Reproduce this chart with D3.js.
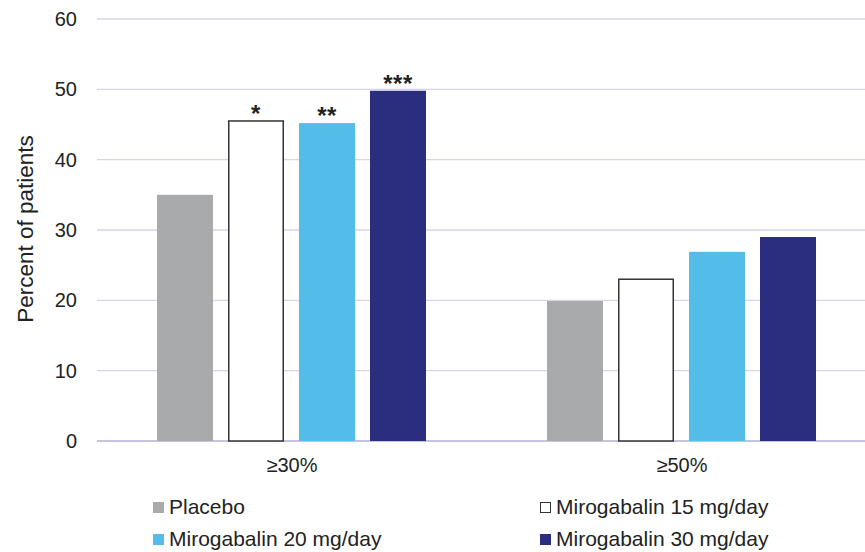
<!DOCTYPE html>
<html>
<head>
<meta charset="utf-8">
<script src="https://cdn.jsdelivr.net/npm/d3@7"></script>
<style>
	body{margin:0;background:#fff;}
	svg{font-family:"Liberation Sans",Arial,sans-serif;}
</style>
</head>
<body>
<svg width="865" height="552"></svg>
<script>
(()=>{
	//data
	let categories = ["≥30%", "≥50%"];
	let series = ["Placebo", "Mirogabalin 15 mg/day", "Mirogabalin 20 mg/day", "Mirogabalin 30 mg/day"];
	let values = [
		[35.0, 19.9],
		[45.5, 23.0],
		[45.2, 26.9],
		[49.8, 29.0]
	];
	let stars = [
		["", ""],
		["*", ""],
		["**", ""],
		["***", ""]
	];
	let yTicks = [0, 10, 20, 30, 40, 50, 60];

	let fills = ["#a9aaac", "#ffffff", "#53bce9", "#2b2d7e"],
		strokes = [null, "#333", null, null];

	let svg = d3.select("svg");
	let left = 97, right = 877, top = 19, bottom = 441;

	let x0 = d3.scaleBand().domain(categories).range([left, right]);
	let x1 = d3.scaleBand().domain(d3.range(series.length))
		.range([0, 269]).paddingInner(15/71).paddingOuter(0);
	let y = d3.scaleLinear().domain([0, 60]).range([bottom, top]);

	//grid
	let grid = svg.append("g");
	grid.selectAll("line").data(yTicks).enter().append("line")
		.attr("x1", left).attr("x2", 865)
		.attr("y1", d=>y(d)).attr("y2", d=>y(d))
		.attr("stroke", d=> d==0 ? "#c6c2e0" : "#d6d3ea")
		.attr("stroke-width", d=> d==0 ? 2 : 1.3);

	//y axis
	let yAxis = d3.axisLeft(y).tickValues(yTicks).tickSize(0).tickPadding(0);
	let ya = svg.append("g").attr("transform", "translate(77,0)").call(yAxis);
	ya.select(".domain").remove();
	ya.selectAll("text").attr("font-size", 20).attr("fill", "#222")
		.attr("font-family", "Liberation Sans, Arial, sans-serif");

	svg.append("text")
		.attr("transform", "translate(33,229) rotate(-90)")
		.attr("text-anchor", "middle")
		.attr("font-size", 22.5).attr("fill", "#222")
		.text("Percent of patients");

	//bars
	let groups = svg.selectAll(".grp").data(categories).enter().append("g")
		.attr("class", "grp")
		.attr("transform", d=> "translate(" + (x0(d) + x0.bandwidth()/2 - 135) + ",0)");

	groups.each(function(c, ci){
		let g = d3.select(this);
		series.forEach((s, si)=>{
			let v = values[si][ci];
			let sw = strokes[si] ? 1.5 : 0;
			g.append("rect")
				.attr("x", x1(si) + sw/2)
				.attr("y", y(v))
				.attr("width", x1.bandwidth() - sw)
				.attr("height", y(0) - y(v))
				.attr("fill", fills[si])
				.attr("stroke", strokes[si])
				.attr("stroke-width", sw);
			if(stars[si][ci]){
				g.append("text")
					.attr("x", x1(si) + x1.bandwidth()/2)
					.attr("y", y(v) + 1)
					.attr("text-anchor", "middle")
					.attr("font-size", 24).attr("font-weight", "bold").attr("fill", "#222")
					.attr("letter-spacing", 0.5)
					.text(stars[si][ci]);
			}
		});
	});

	//x axis labels
	let xAxis = d3.axisBottom(x0).tickSize(0).tickPadding(0);
	let xa = svg.append("g").attr("transform", "translate(0,458)").call(xAxis);
	xa.select(".domain").remove();
	xa.selectAll("text").attr("font-size", 20).attr("fill", "#222")
		.attr("font-family", "Liberation Sans, Arial, sans-serif");

	//legend
	let legPos = [[153, 507], [540, 507], [153, 539], [540, 539]];
	series.forEach((s, i)=>{
		let p = legPos[i];
		let lg = svg.append("g").attr("transform", "translate(" + p[0] + "," + p[1] + ")");
		lg.append("rect")
			.attr("x", strokes[i] ? 0.5 : 0).attr("y", strokes[i] ? -4.5 : -5)
			.attr("width", strokes[i] ? 10 : 11).attr("height", strokes[i] ? 10 : 11)
			.attr("fill", fills[i])
			.attr("stroke", strokes[i])
			.attr("stroke-width", strokes[i] ? 1 : 0);
		lg.append("text")
			.attr("x", 16).attr("y", 6.5)
			.attr("font-size", 21).attr("fill", "#222")
			.text(s);
	});
})();
</script>
</body>
</html>
